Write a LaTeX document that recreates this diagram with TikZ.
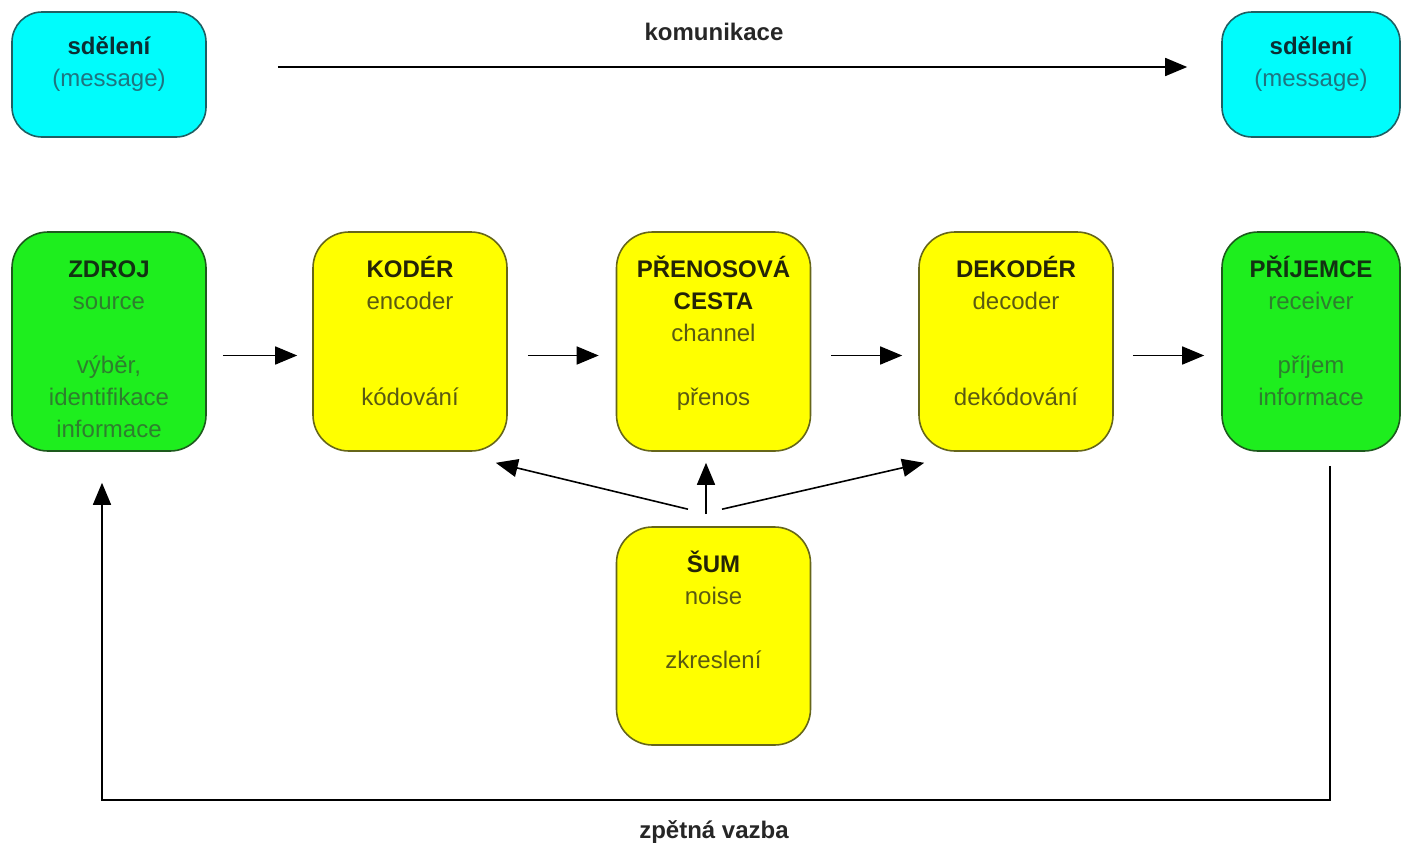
\documentclass[tikz,border=0pt]{standalone}
\usepackage{fontspec}
\setmainfont{Liberation Sans}
\usetikzlibrary{arrows.meta}

\definecolor{msgfill}{HTML}{00FCFC}
\definecolor{msgline}{HTML}{1F5F63}
\definecolor{msgtext}{HTML}{1E7480}
\definecolor{endfill}{HTML}{1EEE1E}
\definecolor{endline}{HTML}{1D5A1D}
\definecolor{endtext}{HTML}{2E7E2E}
\definecolor{stagefill}{HTML}{FFFF00}
\definecolor{stageline}{HTML}{66661A}
\definecolor{stagetext}{HTML}{5A5A12}

\newcommand{\head}[1]{{\bfseries\color{.!40!black}#1}}
\newcommand{\boxlines}[2][172pt]{\parbox[c][#1][t]{170pt}{\centering\strut #2}}

\begin{document}
\begin{tikzpicture}[x=1pt, y=-1pt,
    box/.style = {draw, rounded corners=36pt, line width=1.6pt, minimum width=194pt, minimum height=219pt, inner sep=0pt, font=\fontsize{24}{32}\selectfont},
    message/.style = {box, fill=msgfill, draw=msgline, text=msgtext, minimum height=125pt, rounded corners=30pt},
    endpoint/.style = {box, fill=endfill, draw=endline, text=endtext},
    stage/.style = {box, fill=stagefill, draw=stageline, text=stagetext},
    caption/.style = {font=\fontsize{24}{32}\selectfont\bfseries, text=black!85},
    flow/.style = {line width=1.6pt, -{Triangle[length=22pt, width=18pt]}}]

    \useasboundingbox (0, 0) rectangle (1401, 849);

    \node at (109, 74.5) [message] (msg_1) {\boxlines[84pt]{\head{sdělení}\\ (message)}};
    \node at (1311, 74.5) [message, minimum width=178pt] (msg_2) {\boxlines[84pt]{\head{sdělení}\\ (message)}};
    \node at (714, 32) [caption] (komunikace) {komunikace};

    \node at (109, 341.5) [endpoint] (zdroj) {\boxlines{\head{ZDROJ}\\ source\\[32pt] výběr,\\ identifikace\\ informace}};
    \node at (410, 341.5) [stage] (koder) {\boxlines{\head{KODÉR}\\ encoder\\[64pt] kódování}};
    \node at (713.5, 341.5) [stage] (prenos) {\boxlines{\head{PŘENOSOVÁ}\\ \head{CESTA}\\ channel\\[32pt] přenos}};
    \node at (1016, 341.5) [stage] (dekoder) {\boxlines{\head{DEKODÉR}\\ decoder\\[64pt] dekódování}};
    \node at (1311, 341.5) [endpoint, minimum width=178pt] (prijemce) {\boxlines{\head{PŘÍJEMCE}\\ receiver\\[32pt] příjem\\ informace}};

    \node at (713.5, 636) [stage, minimum height=218pt] (sum) {\boxlines{\head{ŠUM}\\ noise\\[32pt] zkreslení}};

    \coordinate (fb) at (714, 800);
    \node at (714, 832) [caption] (vazba) {zpětná vazba};

    \draw[flow, shorten <=71pt, shorten >=34pt] ([yshift=7.5pt]msg_1.east) -- ([yshift=7.5pt]msg_2.west);

    \draw[flow, shorten <=16pt, shorten >=15pt] ([yshift=-14pt]zdroj.east) -- ([yshift=-14pt]koder.west);
    \draw[flow, shorten <=20pt, shorten >=17pt] ([yshift=-14pt]koder.east) -- ([yshift=-14pt]prenos.west);
    \draw[flow, shorten <=20pt, shorten >=16pt] ([yshift=-14pt]prenos.east) -- ([yshift=-14pt]dekoder.west);
    \draw[flow, shorten <=19pt, shorten >=17pt] ([yshift=-14pt]dekoder.east) -- ([yshift=-14pt]prijemce.west);

    \draw[flow] ([xshift=-25.5pt, yshift=17pt]sum.north) -- ([xshift=-12pt, yshift=-11pt]koder.south east);
    \draw[flow] ([xshift=-7.5pt, yshift=12pt]sum.north) -- ([xshift=-7.5pt, yshift=-11pt]prenos.south);
    \draw[flow] ([xshift=8.5pt, yshift=17pt]sum.north) -- ([xshift=6pt, yshift=-11pt]dekoder.south west);

    \draw[flow] ([xshift=19pt, yshift=-14pt]prijemce.south) |- (fb) -| ([xshift=-7pt, yshift=-31pt]zdroj.south);
\end{tikzpicture}
\end{document}
